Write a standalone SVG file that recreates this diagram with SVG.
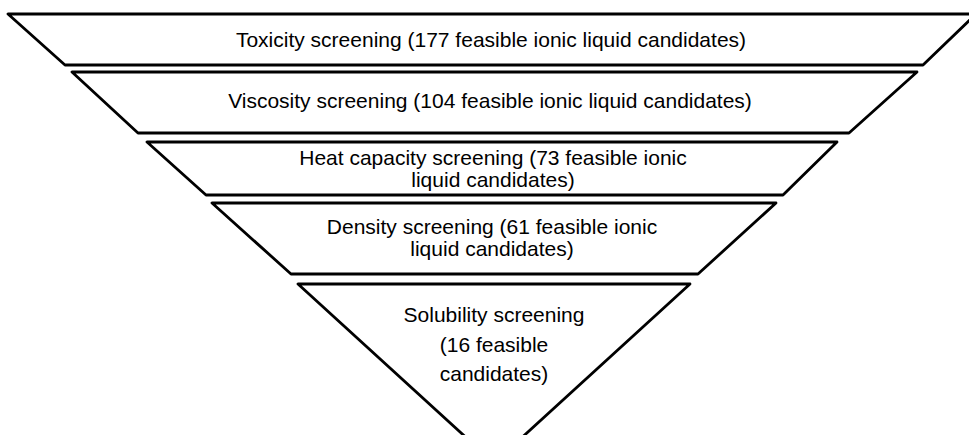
<svg xmlns="http://www.w3.org/2000/svg" width="969" height="435" viewBox="0 0 969 435">
  <style>
    .stage { fill: #ffffff; stroke: #000000; stroke-width: 2.8; stroke-linejoin: round; }
    .label { font-family: "Liberation Sans", Arial, sans-serif; font-size: 21px; fill: #000000; text-anchor: middle; }
  </style>
  <rect x="0" y="0" width="969" height="435" fill="#ffffff"/>

  <g id="toxicity">
    <polygon class="stage" points="8,14 976,14 923,65 65,65"/>
    <text class="label" x="491" y="47">Toxicity screening (177 feasible ionic liquid candidates)</text>
  </g>

  <g id="viscosity">
    <polygon class="stage" points="72,72 917,72 849,133 138,133"/>
    <text class="label" x="490" y="108">Viscosity screening (104 feasible ionic liquid candidates)</text>
  </g>

  <g id="heat-capacity">
    <polygon class="stage" points="147,142 837,142 783,195 206,195"/>
    <text class="label" x="493" y="165">Heat capacity screening (73 feasible ionic</text>
    <text class="label" x="493" y="187">liquid candidates)</text>
  </g>

  <g id="density">
    <polygon class="stage" points="212,203 776,203 698,274 291,274"/>
    <text class="label" x="492" y="234">Density screening (61 feasible ionic</text>
    <text class="label" x="492" y="256">liquid candidates)</text>
  </g>

  <g id="solubility">
    <polygon class="stage" points="298,284 690,284 494,463"/>
    <text class="label" x="494" y="322">Solubility screening</text>
    <text class="label" x="494" y="352">(16 feasible</text>
    <text class="label" x="494" y="381">candidates)</text>
  </g>

  <g id="connectors"></g>
</svg>
